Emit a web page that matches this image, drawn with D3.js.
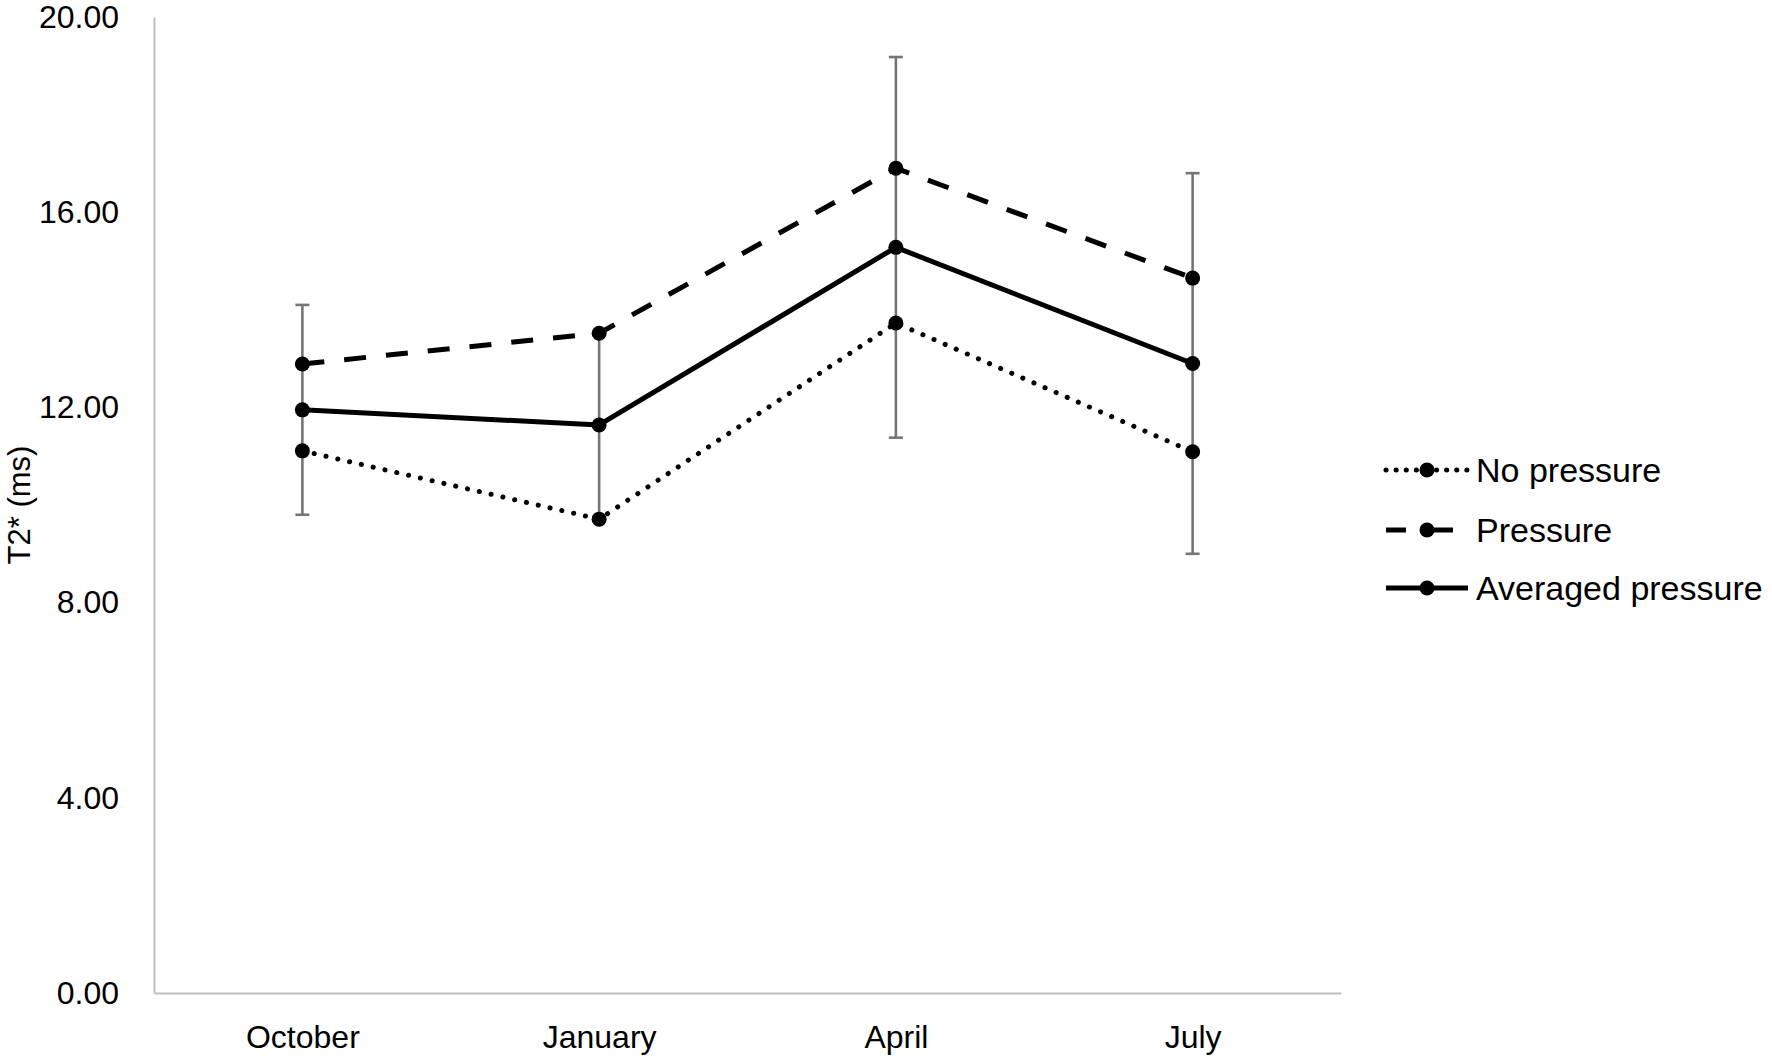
<!DOCTYPE html>
<html>
<head>
<meta charset="utf-8">
<script src="https://cdn.jsdelivr.net/npm/d3@7"></script>
<style>
  html, body { margin: 0; padding: 0; background: #fff; }
  svg { display: block; font-family: "Liberation Sans", Arial, sans-serif; }
</style>
</head>
<body>
<svg id="chart" width="1772" height="1060"></svg>
<script>
const categories = ["October", "January", "April", "July"];
const noPressure = [11.11, 9.71, 13.73, 11.09];
const pressure = [12.89, 13.52, 16.90, 14.65];
const averaged = [11.95, 11.64, 15.28, 12.90];
const averagedError = [2.15, 1.90, 3.90, 3.90];
const yTicks = [0, 4, 8, 12, 16, 20];
const seriesNames = ["No pressure", "Pressure", "Averaged pressure"];

const svg = d3.select("#chart");
const margin = { left: 154, right: 1341, top: 17, bottom: 993 };

const x = d3.scalePoint().domain(categories).range([margin.left, margin.right]).padding(0.5);
const y = d3.scaleLinear().domain([0, 20]).range([margin.bottom, margin.top]);

// axes
const axisColor = "#bfbfbf";
const yAxis = svg.append("g").attr("transform", `translate(${margin.left},0)`)
  .call(d3.axisLeft(y).tickValues(yTicks).tickSize(0).tickPadding(35).tickFormat(d3.format(".2f")));
yAxis.select(".domain").attr("stroke", axisColor).attr("stroke-width", 2);
yAxis.selectAll("text").attr("font-size", 32).attr("fill", "#000").attr("font-family", "Liberation Sans, Arial, sans-serif");

const xAxis = svg.append("g").attr("transform", `translate(0,${margin.bottom})`)
  .call(d3.axisBottom(x).tickSize(0).tickPadding(32));
xAxis.select(".domain").attr("stroke", axisColor).attr("stroke-width", 2);
xAxis.selectAll("text").attr("font-size", 32).attr("fill", "#000").attr("font-family", "Liberation Sans, Arial, sans-serif");

// y title
svg.append("text")
  .attr("transform", `translate(30,${(margin.top + margin.bottom) / 2}) rotate(-90)`)
  .attr("text-anchor", "middle")
  .attr("font-size", 31)
  .attr("fill", "#000")
  .text("T2* (ms)");

// error bars (on averaged pressure)
const eb = svg.append("g").attr("stroke", "#757575").attr("stroke-width", 2.6).attr("fill", "none");
categories.forEach((c, i) => {
  const cx = x(c), hi = y(averaged[i] + averagedError[i]), lo = y(averaged[i] - averagedError[i]);
  eb.append("line").attr("x1", cx).attr("x2", cx).attr("y1", hi).attr("y2", lo);
  eb.append("line").attr("x1", cx - 7).attr("x2", cx + 7).attr("y1", hi).attr("y2", hi);
  eb.append("line").attr("x1", cx - 7).attr("x2", cx + 7).attr("y1", lo).attr("y2", lo);
});

const series = [
  { name: seriesNames[0], values: noPressure, dash: "0.1 12", cap: "round", legendDash: "0.1 10" },
  { name: seriesNames[1], values: pressure, dash: "22 20", cap: "butt", legendDash: "20 17 30 100" },
  { name: seriesNames[2], values: averaged, dash: null, cap: "butt", legendDash: null }
];

const line = d3.line().x((d, i) => x(categories[i])).y(d => y(d));

series.forEach(s => {
  svg.append("path")
    .datum(s.values)
    .attr("d", line)
    .attr("fill", "none")
    .attr("stroke", "#000")
    .attr("stroke-width", 5)
    .attr("stroke-linecap", s.cap)
    .attr("stroke-linejoin", "round")
    .attr("stroke-dasharray", s.dash);
});
series.forEach(s => {
  svg.append("g").selectAll("circle")
    .data(s.values)
    .join("circle")
    .attr("cx", (d, i) => x(categories[i]))
    .attr("cy", d => y(d))
    .attr("r", 7.5)
    .attr("fill", "#000");
});

// legend
const legendY = [470, 530, 588];
const lg = svg.append("g");
series.forEach((s, i) => {
  const ly = legendY[i];
  lg.append("line")
    .attr("x1", 1386).attr("x2", 1468).attr("y1", ly).attr("y2", ly)
    .attr("stroke", "#000").attr("stroke-width", 5)
    .attr("stroke-linecap", s.cap)
    .attr("stroke-dasharray", s.legendDash);
  lg.append("circle").attr("cx", 1427).attr("cy", ly).attr("r", 7.5).attr("fill", "#000");
  lg.append("text")
    .attr("x", 1476).attr("y", ly).attr("dy", "0.35em")
    .attr("font-size", 34).attr("fill", "#000")
    .text(s.name);
});
</script>
</body>
</html>
